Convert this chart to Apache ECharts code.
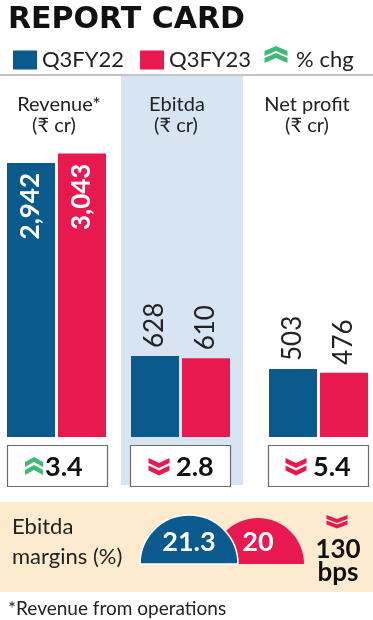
<!DOCTYPE html>
<html>
<head>
<meta charset="utf-8">
<script src="https://cdn.jsdelivr.net/npm/echarts@6/dist/echarts.min.js"></script>
<style>
html,body{margin:0;padding:0;background:#fff;}
#chart{width:373px;height:620px;}
</style>
</head>
<body>
<div id="chart"></div>
<script>
// ---- data ----
const titleText = 'REPORT CARD';
const categories = ['Revenue*', 'Ebitda', 'Net profit'];
const unitLabel = '(\u20B9 cr)';
const seriesNames = ['Q3FY22', 'Q3FY23'];
const q3fy22 = [2942, 628, 503];
const q3fy23 = [3043, 610, 476];
const pctChg = [3.4, -2.8, -5.4];
const changeLegend = '% chg';
const marginTitle = ['Ebitda', 'margins (%)'];
const margins = [21.3, 20];
const marginChg = ['130', 'bps'];
const footnote = '*Revenue from operations';

// ---- style / layout ----
const BLUE = '#0b5a8d', PINK = '#e8194f', GREEN = '#3dba78';
const FONT = "Lato, 'Noto Sans', sans-serif";
const gridLefts = [7, 131, 269];
const gridWidth = 99;
const axisMax = [3876, 2800, 2670];
const headCenters = [[59, 54], [177, 176], [307, 307]];
const boxLefts = [7, 130, 268];
const chevCenters = [34, 159, 296];
const numLefts = [45, 176, 313];

const grids = [], xAxes = [], yAxes = [], series = [];
for (let i = 0; i < 3; i++) {
  grids.push({left: gridLefts[i], width: gridWidth, top: 76, height: 361});
  xAxes.push({type: 'category', gridIndex: i, data: [categories[i]], show: false});
  yAxes.push({type: 'value', gridIndex: i, min: 0, max: axisMax[i], show: false});
  const inside = i === 0;
  const lbl = inside ? {
    show: true, position: 'insideTop', rotate: 90, align: 'right', verticalAlign: 'middle',
    distance: 10, color: '#fff', fontWeight: 'bold', fontSize: 26, fontFamily: FONT,
    formatter: p => p.value.toLocaleString('en-IN')
  } : {
    show: true, position: 'top', rotate: 90, align: 'left', verticalAlign: 'middle',
    distance: 8, color: '#222', fontSize: 26, fontFamily: FONT,
    formatter: p => p.value.toLocaleString('en-IN')
  };
  [q3fy22, q3fy23].forEach((arr, k) => {
    series.push({
      type: 'bar', name: seriesNames[k], xAxisIndex: i, yAxisIndex: i,
      data: [arr[i]], barWidth: 48, barGap: '6.25%',
      itemStyle: {color: k === 0 ? BLUE : PINK},
      label: lbl, silent: true, animation: false
    });
  });
}
series.push({type: 'scatter', name: changeLegend, xAxisIndex: 0, yAxisIndex: 0, data: [],
  itemStyle: {color: 'rgba(0,0,0,0)'}});

// margin semicircles
const pxPerPct = 2.3;
const pieCenters = [[189, 564], [258, 564]];
const labelOffsets = [[0, 6], [0, 4]];
[1, 0].forEach(k => {
  series.push({
    type: 'pie', name: 'margin' + k, silent: true, animation: false, z: 3 + (k === 0 ? 2 : 0),
    center: pieCenters[k], radius: [0, margins[k] * pxPerPct],
    startAngle: 180, clockwise: true, avoidLabelOverlap: false,
    label: {show: true, position: 'inside', formatter: '{c}', color: '#fff', fontWeight: 'bold',
      fontSize: 27, fontFamily: FONT, offset: labelOffsets[k]},
    labelLine: {show: false},
    data: [
      {value: margins[k], itemStyle: {color: k === 0 ? BLUE : PINK, borderColor: '#fff', borderWidth: k === 0 ? 1.5 : 0}},
      {value: margins[k], itemStyle: {color: 'rgba(0,0,0,0)', borderWidth: 0}, label: {show: false}}
    ]
  });
});

function chev(cx, top, w, h, t, up) {
  if (!up) return [[cx - w/2, top], [cx, top + h - t], [cx + w/2, top], [cx + w/2, top + t], [cx, top + h], [cx - w/2, top + t]];
  return [[cx - w/2, top + h], [cx, top + t], [cx + w/2, top + h], [cx + w/2, top + h - t], [cx, top], [cx - w/2, top + h - t]];
}
function dblChev(cx, top, w, h, t, off, up, color) {
  return [
    {type: 'polygon', shape: {points: chev(cx, top, w, h, t, up)}, style: {fill: color}, z: 10},
    {type: 'polygon', shape: {points: chev(cx, top + off, w, h, t, up)}, style: {fill: color}, z: 10}
  ];
}

const graphics = [];
graphics.push({type: 'rect', shape: {x: 121, y: 76, width: 122, height: 409}, style: {fill: '#d6e5f1'}, z: -10});
graphics.push({type: 'line', shape: {x1: 0, y1: 75, x2: 373, y2: 75}, style: {stroke: '#8a8a8a', lineWidth: 1}, z: 5});
graphics.push({type: 'text', x: 8, y: 20, style: {text: titleText, font: "bold 30px 'DejaVu Sans'", fill: '#111', textVerticalAlign: 'middle'}, z: 10});
// legend chevron icon
graphics.push(...dblChev(276, 46, 23, 10, 5, 7, true, GREEN));

for (let i = 0; i < 3; i++) {
  graphics.push({type: 'text', x: headCenters[i][0], y: 105, style: {text: categories[i], font: '20px ' + FONT, fill: '#222', textAlign: 'center', textVerticalAlign: 'middle'}, z: 10});
  graphics.push({type: 'text', x: headCenters[i][1], y: 126, style: {text: unitLabel, font: '20px ' + FONT, fill: '#222', textAlign: 'center', textVerticalAlign: 'middle'}, z: 10});
  graphics.push({type: 'rect', shape: {x: boxLefts[i] + 0.5, y: 445.5, width: 100, height: 41}, style: {fill: '#fff', stroke: '#6a6a6a', lineWidth: 1.2}, z: 5});
  const up = pctChg[i] > 0;
  if (up) graphics.push(...dblChev(chevCenters[i], 457, 18, 10, 5, 8, true, GREEN));
  else graphics.push(...dblChev(chevCenters[i], 458, 21, 10, 5, 7.5, false, PINK));
  graphics.push({type: 'text', x: numLefts[i], y: 467, style: {text: Math.abs(pctChg[i]).toFixed(1), font: 'bold 27px ' + FONT, fill: '#111', textAlign: 'left', textVerticalAlign: 'middle'}, z: 10});
}

graphics.push({type: 'rect', shape: {x: 0, y: 502, width: 373, height: 90}, style: {fill: '#fcebcf'}, z: -10});
graphics.push({type: 'text', x: 12, y: 527, style: {text: marginTitle[0], font: '22px ' + FONT, fill: '#222', textVerticalAlign: 'middle'}, z: 10});
graphics.push({type: 'text', x: 12, y: 557, style: {text: marginTitle[1], font: '22px ' + FONT, fill: '#222', textVerticalAlign: 'middle'}, z: 10});
graphics.push(...dblChev(337, 515, 21, 8, 4, 5.5, false, PINK));
graphics.push({type: 'text', x: 338, y: 550, style: {text: marginChg[0], font: 'bold 26px ' + FONT, fill: '#111', textAlign: 'center', textVerticalAlign: 'middle'}, z: 10});
graphics.push({type: 'text', x: 338, y: 573, style: {text: marginChg[1], font: 'bold 26px ' + FONT, fill: '#111', textAlign: 'center', textVerticalAlign: 'middle'}, z: 10});
graphics.push({type: 'text', x: 8, y: 609, style: {text: footnote, font: '19px ' + FONT, fill: '#222', textVerticalAlign: 'middle'}, z: 10});

const chart = echarts.init(document.getElementById('chart'), null, {renderer: 'canvas'});
chart.setOption({
  animation: false,
  backgroundColor: '#fff',
  grid: grids, xAxis: xAxes, yAxis: yAxes,
  legend: {
    left: 8, top: 44, itemWidth: 24, itemHeight: 19, itemGap: 16, selectedMode: false,
    textStyle: {fontSize: 22, color: '#222', fontFamily: FONT},
    data: [
      {name: seriesNames[0], icon: 'rect'},
      {name: seriesNames[1], icon: 'rect'},
      {name: changeLegend, icon: 'rect', itemStyle: {color: 'rgba(0,0,0,0)', borderWidth: 0}}
    ]
  },
  graphic: {elements: graphics},
  series: series
});
</script>
</body>
</html>
